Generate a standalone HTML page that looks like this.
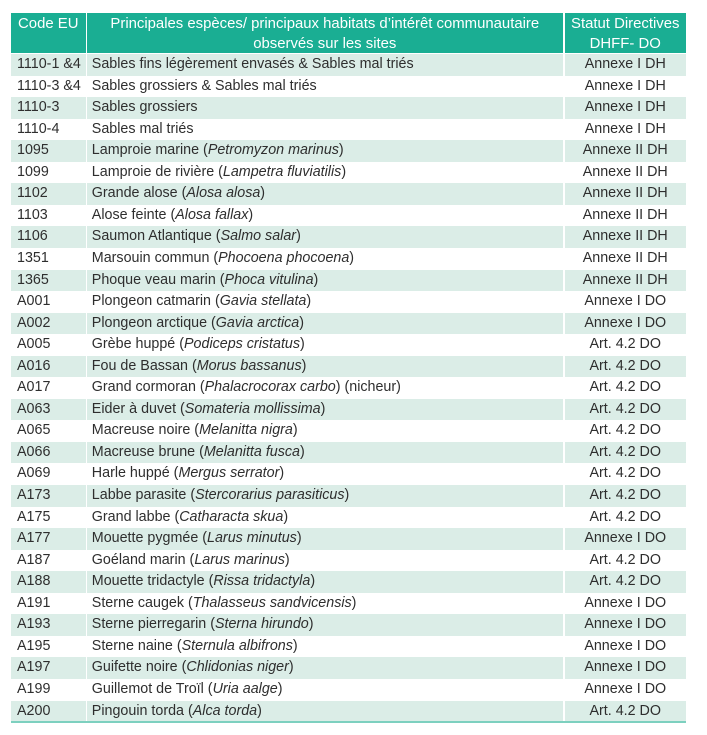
<!DOCTYPE html>
<html><head><meta charset="utf-8">
<style>
html,body{margin:0;padding:0;background:#fff;}
body{width:707px;height:735px;position:relative;overflow:hidden;font-family:"Liberation Sans",Arial,sans-serif;font-size:14.3px;color:#2e2e2e;}
.h{position:absolute;top:13px;height:39.5px;background:#1aae93;color:#fff;text-align:center;line-height:20px;padding-top:1px;box-sizing:border-box;font-size:14.9px;}
.r{position:absolute;left:0;width:707px;height:21.55px;}
.c{position:absolute;top:0;height:100%;line-height:21.55px;white-space:nowrap;box-sizing:border-box;}
.g .c{background:#dbede7;}
.c1{left:11px;width:74.5px;padding-left:6px;}
.c2{left:86.8px;width:476px;padding-left:5px;}
.c3{left:564.5px;width:121.5px;text-align:center;}
i{font-style:italic;}
.line{position:absolute;left:11px;width:675px;top:721px;height:2px;background:#7dd0bf;}
</style></head><body>
<div class="h" style="left:11px;width:74.5px;">Code EU</div>
<div class="h" style="left:86.8px;width:476px;">Principales espèces/ principaux habitats d’intérêt communautaire<br>observés sur les sites</div>
<div class="h" style="left:564.5px;width:121.5px;">Statut Directives<br>DHFF- DO</div>

<div class="r g" style="top:54px"><div class="c c1">1110-1 &amp;4</div><div class="c c2">Sables fins légèrement envasés &amp; Sables mal triés</div><div class="c c3">Annexe I DH</div></div>
<div class="r" style="top:75.55px"><div class="c c1">1110-3 &amp;4</div><div class="c c2">Sables grossiers &amp; Sables mal triés</div><div class="c c3">Annexe I DH</div></div>
<div class="r g" style="top:97.1px"><div class="c c1">1110-3</div><div class="c c2">Sables grossiers</div><div class="c c3">Annexe I DH</div></div>
<div class="r" style="top:118.65px"><div class="c c1">1110-4</div><div class="c c2">Sables mal triés</div><div class="c c3">Annexe I DH</div></div>
<div class="r g" style="top:140.2px"><div class="c c1">1095</div><div class="c c2">Lamproie marine (<i>Petromyzon marinus</i>)</div><div class="c c3">Annexe II DH</div></div>
<div class="r" style="top:161.75px"><div class="c c1">1099</div><div class="c c2">Lamproie de rivière (<i>Lampetra fluviatilis</i>)</div><div class="c c3">Annexe II DH</div></div>
<div class="r g" style="top:183.3px"><div class="c c1">1102</div><div class="c c2">Grande alose (<i>Alosa alosa</i>)</div><div class="c c3">Annexe II DH</div></div>
<div class="r" style="top:204.85px"><div class="c c1">1103</div><div class="c c2">Alose feinte (<i>Alosa fallax</i>)</div><div class="c c3">Annexe II DH</div></div>
<div class="r g" style="top:226.4px"><div class="c c1">1106</div><div class="c c2">Saumon Atlantique (<i>Salmo salar</i>)</div><div class="c c3">Annexe II DH</div></div>
<div class="r" style="top:247.95px"><div class="c c1">1351</div><div class="c c2">Marsouin commun (<i>Phocoena phocoena</i>)</div><div class="c c3">Annexe II DH</div></div>
<div class="r g" style="top:269.5px"><div class="c c1">1365</div><div class="c c2">Phoque veau marin (<i>Phoca vitulina</i>)</div><div class="c c3">Annexe II DH</div></div>
<div class="r" style="top:291.05px"><div class="c c1">A001</div><div class="c c2">Plongeon catmarin (<i>Gavia stellata</i>)</div><div class="c c3">Annexe I DO</div></div>
<div class="r g" style="top:312.6px"><div class="c c1">A002</div><div class="c c2">Plongeon arctique (<i>Gavia arctica</i>)</div><div class="c c3">Annexe I DO</div></div>
<div class="r" style="top:334.15px"><div class="c c1">A005</div><div class="c c2">Grèbe huppé (<i>Podiceps cristatus</i>)</div><div class="c c3">Art. 4.2 DO</div></div>
<div class="r g" style="top:355.7px"><div class="c c1">A016</div><div class="c c2">Fou de Bassan (<i>Morus bassanus</i>)</div><div class="c c3">Art. 4.2 DO</div></div>
<div class="r" style="top:377.25px"><div class="c c1">A017</div><div class="c c2">Grand cormoran (<i>Phalacrocorax carbo</i>) (nicheur)</div><div class="c c3">Art. 4.2 DO</div></div>
<div class="r g" style="top:398.8px"><div class="c c1">A063</div><div class="c c2">Eider à duvet (<i>Somateria mollissima</i>)</div><div class="c c3">Art. 4.2 DO</div></div>
<div class="r" style="top:420.35px"><div class="c c1">A065</div><div class="c c2">Macreuse noire (<i>Melanitta nigra</i>)</div><div class="c c3">Art. 4.2 DO</div></div>
<div class="r g" style="top:441.9px"><div class="c c1">A066</div><div class="c c2">Macreuse brune (<i>Melanitta fusca</i>)</div><div class="c c3">Art. 4.2 DO</div></div>
<div class="r" style="top:463.45px"><div class="c c1">A069</div><div class="c c2">Harle huppé (<i>Mergus serrator</i>)</div><div class="c c3">Art. 4.2 DO</div></div>
<div class="r g" style="top:485px"><div class="c c1">A173</div><div class="c c2">Labbe parasite (<i>Stercorarius parasiticus</i>)</div><div class="c c3">Art. 4.2 DO</div></div>
<div class="r" style="top:506.55px"><div class="c c1">A175</div><div class="c c2">Grand labbe (<i>Catharacta skua</i>)</div><div class="c c3">Art. 4.2 DO</div></div>
<div class="r g" style="top:528.1px"><div class="c c1">A177</div><div class="c c2">Mouette pygmée (<i>Larus minutus</i>)</div><div class="c c3">Annexe I DO</div></div>
<div class="r" style="top:549.65px"><div class="c c1">A187</div><div class="c c2">Goéland marin (<i>Larus marinus</i>)</div><div class="c c3">Art. 4.2 DO</div></div>
<div class="r g" style="top:571.2px"><div class="c c1">A188</div><div class="c c2">Mouette tridactyle (<i>Rissa tridactyla</i>)</div><div class="c c3">Art. 4.2 DO</div></div>
<div class="r" style="top:592.75px"><div class="c c1">A191</div><div class="c c2">Sterne caugek (<i>Thalasseus sandvicensis</i>)</div><div class="c c3">Annexe I DO</div></div>
<div class="r g" style="top:614.3px"><div class="c c1">A193</div><div class="c c2">Sterne pierregarin (<i>Sterna hirundo</i>)</div><div class="c c3">Annexe I DO</div></div>
<div class="r" style="top:635.85px"><div class="c c1">A195</div><div class="c c2">Sterne naine (<i>Sternula albifrons</i>)</div><div class="c c3">Annexe I DO</div></div>
<div class="r g" style="top:657.4px"><div class="c c1">A197</div><div class="c c2">Guifette noire (<i>Chlidonias niger</i>)</div><div class="c c3">Annexe I DO</div></div>
<div class="r" style="top:678.95px"><div class="c c1">A199</div><div class="c c2">Guillemot de Troïl (<i>Uria aalge</i>)</div><div class="c c3">Annexe I DO</div></div>
<div class="r g" style="top:700.5px"><div class="c c1">A200</div><div class="c c2">Pingouin torda (<i>Alca torda</i>)</div><div class="c c3">Art. 4.2 DO</div></div>
<div class="line"></div>
</body></html>
